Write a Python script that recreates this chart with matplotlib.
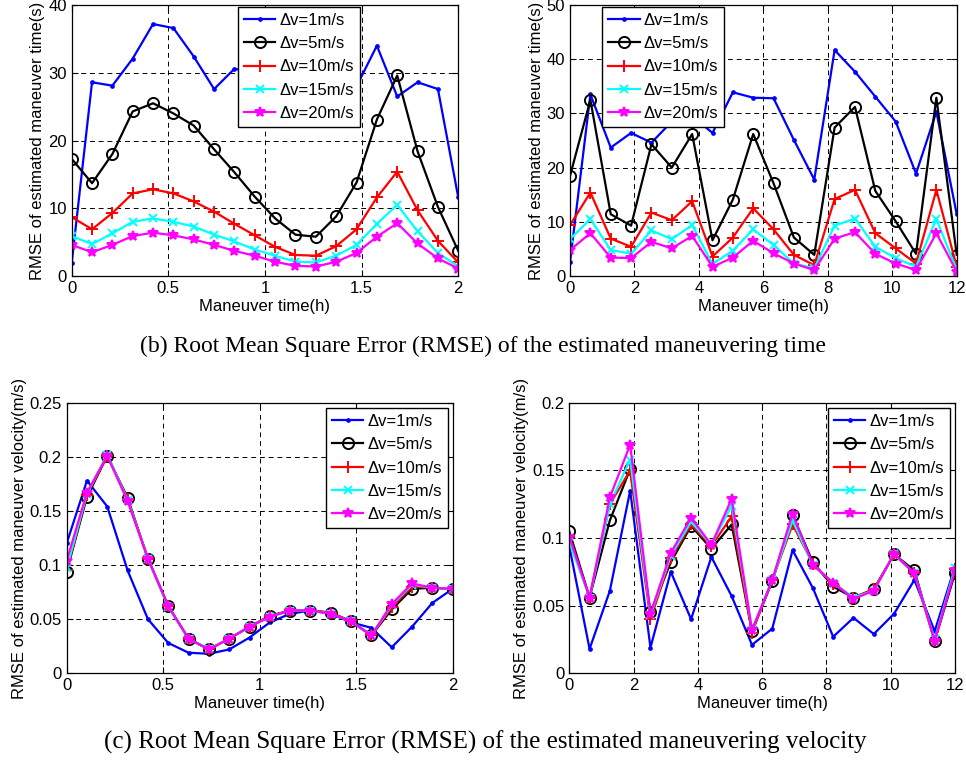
import numpy as np
import matplotlib
matplotlib.use("Agg")
import matplotlib.pyplot as plt
from matplotlib.ticker import FuncFormatter

plt.rcParams['font.family'] = ['Liberation Sans', 'DejaVu Sans']

# sample grids: 20 maneuver epochs over 2 h and over 12 h
t_short = np.linspace(0, 2, 20)
t_long = np.linspace(0, 12, 20)

dv_labels = ['\u0394v=1m/s', '\u0394v=5m/s', '\u0394v=10m/s', '\u0394v=15m/s', '\u0394v=20m/s']

# RMSE of estimated maneuver time (s), 2 h span
time_2h_dv1 = [1.9, 28.6, 28.1, 32.1, 37.2, 36.6, 32.4, 27.6, 30.6, 30.0,
               31.0, 29.0, 28.0, 30.0, 28.0, 34.0, 26.5, 28.6, 27.6, 11.6]
time_2h_dv5 = [17.3, 13.7, 18.0, 24.3, 25.5, 24.0, 22.2, 18.7, 15.3, 11.7,
               8.5, 6.1, 5.8, 8.8, 13.8, 23.1, 29.6, 18.4, 10.2, 3.7]
time_2h_dv10 = [8.7, 6.9, 9.3, 12.2, 12.8, 12.2, 11.0, 9.5, 7.7, 6.0,
                4.3, 3.1, 3.0, 4.4, 6.9, 11.6, 15.4, 9.7, 5.2, 2.0]
time_2h_dv15 = [5.9, 4.7, 6.3, 8.0, 8.5, 8.0, 7.3, 6.1, 5.1, 3.9,
                3.0, 2.1, 2.0, 3.0, 4.6, 7.7, 10.5, 6.6, 3.4, 1.4]
time_2h_dv20 = [4.6, 3.5, 4.6, 5.9, 6.4, 6.0, 5.4, 4.6, 3.7, 3.0,
                2.1, 1.5, 1.4, 2.1, 3.4, 5.8, 7.8, 4.8, 2.6, 1.1]

# RMSE of estimated maneuver time (s), 12 h span
time_12h_dv1 = [2.6, 33.5, 23.7, 26.4, 24.6, 28.5, 29.5, 26.4, 33.9, 32.9,
                32.8, 25.1, 17.8, 41.7, 37.7, 33.1, 28.5, 18.9, 30.3, 11.4]
time_12h_dv5 = [18.5, 32.5, 11.4, 9.3, 24.3, 20.0, 26.2, 6.6, 14.1, 26.2,
                17.1, 7.1, 3.9, 27.4, 31.2, 15.7, 10.1, 4.1, 32.9, 3.9]
time_12h_dv10 = [9.4, 15.4, 6.9, 5.4, 11.7, 10.3, 13.8, 3.6, 7.1, 12.5,
                 8.6, 3.9, 2.0, 14.2, 15.9, 7.9, 5.1, 2.3, 15.9, 1.7]
time_12h_dv15 = [6.8, 10.5, 4.8, 4.1, 8.4, 6.8, 9.4, 2.2, 4.7, 8.6,
                 5.7, 2.3, 1.4, 9.3, 10.6, 5.4, 3.3, 1.7, 10.5, 1.2]
time_12h_dv20 = [4.8, 7.9, 3.4, 3.3, 6.3, 5.1, 7.4, 1.7, 3.4, 6.5,
                 4.2, 2.3, 1.1, 6.9, 8.1, 4.1, 2.3, 1.1, 7.9, 0.8]

# RMSE of estimated maneuver velocity (m/s), 2 h span
vel_2h_dv1 = [0.120, 0.178, 0.154, 0.095, 0.050, 0.028, 0.019, 0.018, 0.022, 0.033,
              0.047, 0.055, 0.058, 0.055, 0.047, 0.042, 0.024, 0.043, 0.065, 0.078]
vel_2h_dv5 = [0.094, 0.163, 0.201, 0.162, 0.106, 0.062, 0.032, 0.022, 0.032, 0.043,
              0.053, 0.058, 0.058, 0.056, 0.048, 0.035, 0.059, 0.078, 0.079, 0.078]
vel_2h_dv10 = [0.095, 0.165, 0.201, 0.161, 0.106, 0.062, 0.032, 0.022, 0.032, 0.043,
               0.053, 0.058, 0.058, 0.056, 0.048, 0.035, 0.061, 0.080, 0.079, 0.078]
vel_2h_dv15 = [0.097, 0.166, 0.202, 0.160, 0.106, 0.061, 0.032, 0.022, 0.032, 0.043,
               0.052, 0.058, 0.058, 0.055, 0.048, 0.035, 0.063, 0.082, 0.079, 0.078]
vel_2h_dv20 = [0.104, 0.167, 0.201, 0.159, 0.106, 0.062, 0.032, 0.022, 0.032, 0.043,
               0.052, 0.058, 0.058, 0.055, 0.048, 0.035, 0.064, 0.083, 0.079, 0.078]

# RMSE of estimated maneuver velocity (m/s), 12 h span
vel_12h_dv1 = [0.094, 0.018, 0.061, 0.135, 0.019, 0.075, 0.040, 0.086, 0.057, 0.021,
               0.033, 0.091, 0.063, 0.027, 0.041, 0.029, 0.044, 0.069, 0.031, 0.079]
vel_12h_dv5 = [0.105, 0.056, 0.113, 0.151, 0.045, 0.082, 0.109, 0.092, 0.110, 0.031,
               0.068, 0.117, 0.082, 0.064, 0.056, 0.062, 0.088, 0.076, 0.024, 0.074]
vel_12h_dv10 = [0.101, 0.056, 0.125, 0.150, 0.040, 0.085, 0.110, 0.094, 0.116, 0.030,
                0.069, 0.110, 0.081, 0.066, 0.056, 0.062, 0.088, 0.074, 0.024, 0.077]
vel_12h_dv15 = [0.097, 0.056, 0.125, 0.158, 0.043, 0.087, 0.112, 0.095, 0.124, 0.032,
                0.069, 0.113, 0.080, 0.067, 0.056, 0.061, 0.088, 0.074, 0.025, 0.078]
vel_12h_dv20 = [0.101, 0.056, 0.130, 0.169, 0.044, 0.089, 0.115, 0.095, 0.129, 0.032,
                0.069, 0.118, 0.080, 0.067, 0.055, 0.061, 0.088, 0.074, 0.024, 0.076]

STYLES = [
    dict(color='#0000ff', marker='.', markersize=4),
    dict(color='k', marker='o', markersize=8, markerfacecolor='none'),
    dict(color='#ff0000', marker='+', markersize=9),
    dict(color='#00ffff', marker='x', markersize=5.5),
    dict(color='#ff00ff', marker='*', markersize=7),
]


def draw_panel(ax, t, series, xticks, ylim, yticks, ylabel, legend_anchor, legend_loc):
    for y, label, style in zip(series, dv_labels, STYLES):
        ax.plot(t, y, linewidth=1.6, markeredgewidth=1.4, label=label, **style)
    ax.set_xlim(t[0], t[-1])
    ax.set_ylim(*ylim)
    ax.set_xticks(xticks)
    ax.set_yticks(yticks)
    ax.yaxis.set_major_formatter(FuncFormatter(lambda v, _: '%g' % round(v, 4)))
    ax.xaxis.set_major_formatter(FuncFormatter(lambda v, _: '%g' % round(v, 4)))
    ax.tick_params(direction='in', top=True, right=True, length=4, width=0.8, labelsize=12)
    ax.grid(True, color='k', linestyle=(0, (5, 4)), linewidth=0.7)
    for sp in ax.spines.values():
        sp.set_linewidth(0.9)
    ax.set_xlabel('Maneuver time(h)', fontsize=12, labelpad=2)
    ax.set_ylabel(ylabel, fontsize=12, labelpad=2)
    ax.legend(loc=legend_loc, bbox_to_anchor=legend_anchor, borderaxespad=0,
              fontsize=12, labelspacing=0.5, handlelength=1.9, handletextpad=0.25,
              borderpad=0.35, fancybox=False, framealpha=1, edgecolor='k')


fig = plt.figure(figsize=(9.66, 7.65), dpi=100)

ax_b1 = fig.add_axes([0.0742, 0.6392, 0.4002, 0.3542])
ax_b2 = fig.add_axes([0.5901, 0.6392, 0.4003, 0.3542])
ax_c1 = fig.add_axes([0.0690, 0.1199, 0.3996, 0.3537])
ax_c2 = fig.add_axes([0.5893, 0.1199, 0.3993, 0.3537])

draw_panel(ax_b1, t_short,
           [time_2h_dv1, time_2h_dv5, time_2h_dv10, time_2h_dv15, time_2h_dv20],
           [0, 0.5, 1, 1.5, 2], (0, 40), np.arange(0, 41, 10),
           'RMSE of estimated maneuver time(s)', (0.43, 0.993), 'upper left')
draw_panel(ax_b2, t_long,
           [time_12h_dv1, time_12h_dv5, time_12h_dv10, time_12h_dv15, time_12h_dv20],
           np.arange(0, 13, 2), (0, 50), np.arange(0, 51, 10),
           'RMSE of estimated maneuver time(s)', (0.083, 0.993), 'upper left')
draw_panel(ax_c1, t_short,
           [vel_2h_dv1, vel_2h_dv5, vel_2h_dv10, vel_2h_dv15, vel_2h_dv20],
           [0, 0.5, 1, 1.5, 2], (0, 0.25), np.arange(0, 0.26, 0.05),
           'RMSE of estimated maneuver velocity(m/s)', (0.988, 0.98), 'upper right')
draw_panel(ax_c2, t_long,
           [vel_12h_dv1, vel_12h_dv5, vel_12h_dv10, vel_12h_dv15, vel_12h_dv20],
           np.arange(0, 13, 2), (0, 0.2), np.arange(0, 0.21, 0.05),
           'RMSE of estimated maneuver velocity(m/s)', (0.987, 0.98), 'upper right')

caption_font = ['Liberation Serif', 'DejaVu Serif']
fig.text(0.5, 1 - 346 / 765, '(b) Root Mean Square Error (RMSE) of the estimated maneuvering time',
         ha='center', va='center', fontsize=17, family=caption_font)
fig.text(0.502, 1 - 742 / 765, '(c) Root Mean Square Error (RMSE) of the estimated maneuvering velocity',
         ha='center', va='center', fontsize=18, family=caption_font)

fig.savefig('out.png', dpi=100)
